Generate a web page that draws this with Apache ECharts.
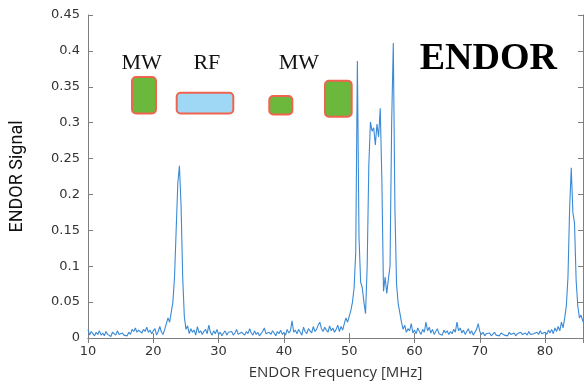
<!DOCTYPE html>
<html>
<head>
<meta charset="utf-8">
<script src="https://cdn.jsdelivr.net/npm/echarts@6/dist/echarts.min.js"></script>
<style>
  html, body { margin: 0; padding: 0; background: #fff; }
  #chart { width: 584px; height: 385px; }
</style>
</head>
<body>
<div id="chart"></div>
<script>
// ENDOR spectrum, sampled every 0.25 MHz starting at 10 MHz
const freqStart = 10;
const freqStep = 0.25;
const signal = [
  0.012, 0.004, 0.009, 0.006, 0.003, 0.008, 0.005, 0.010, // 10
  0.004, 0.007, 0.003, 0.009, 0.005, 0.006, 0.002, 0.008, // 12
  0.006, 0.004, 0.010, 0.005, 0.003, 0.007, 0.004, 0.006, // 14
  0.003, 0.008, 0.005, 0.012, 0.009, 0.014, 0.008, 0.011, // 16
  0.013, 0.007, 0.012, 0.009, 0.015, 0.008, 0.011, 0.006, // 18
  0.010, 0.013, 0.004, 0.009, 0.016, 0.008, 0.005, 0.012, // 20
  0.020, 0.028, 0.022, 0.036, 0.050, 0.085, 0.150, 0.215, // 22
  0.240, 0.185, 0.085, 0.030, 0.012, 0.017, 0.006, 0.013, // 24
  0.008, 0.011, 0.004, 0.016, 0.007, 0.010, 0.005, 0.009, // 26
  0.012, 0.006, 0.018, 0.008, 0.004, 0.010, 0.006, 0.012, // 28
  0.005, 0.008, 0.003, 0.007, 0.010, 0.004, 0.008, 0.006, // 30
  0.009, 0.004, 0.007, 0.012, 0.005, 0.003, 0.008, 0.006, // 32
  0.004, 0.009, 0.006, 0.013, 0.007, 0.004, 0.010, 0.005, // 34
  0.008, 0.003, 0.006, 0.009, 0.014, 0.006, 0.004, 0.008, // 36
  0.005, 0.010, 0.007, 0.003, 0.009, 0.006, 0.011, 0.005, // 38
  0.008, 0.004, 0.012, 0.007, 0.010, 0.024, 0.008, 0.011, // 40
  0.006, 0.012, 0.008, 0.004, 0.015, 0.009, 0.006, 0.013, // 42
  0.010, 0.007, 0.016, 0.009, 0.012, 0.018, 0.022, 0.013, // 44
  0.009, 0.015, 0.011, 0.008, 0.017, 0.010, 0.014, 0.008, // 46
  0.012, 0.018, 0.009, 0.016, 0.011, 0.020, 0.028, 0.022, // 48
  0.030, 0.038, 0.050, 0.070, 0.120, 0.386, 0.140, 0.078, // 50
  0.070, 0.050, 0.034, 0.100, 0.240, 0.301, 0.288, 0.293, // 52
  0.269, 0.298, 0.280, 0.320, 0.220, 0.065, 0.085, 0.062, // 54
  0.082, 0.100, 0.300, 0.411, 0.180, 0.075, 0.048, 0.035, // 56
  0.022, 0.012, 0.018, 0.008, 0.013, 0.010, 0.020, 0.007, // 58
  0.011, 0.006, 0.014, 0.009, 0.005, 0.012, 0.008, 0.022, // 60
  0.010, 0.015, 0.007, 0.012, 0.005, 0.009, 0.013, 0.006, // 62
  0.008, 0.004, 0.011, 0.007, 0.010, 0.005, 0.009, 0.006, // 64
  0.012, 0.008, 0.022, 0.010, 0.014, 0.007, 0.011, 0.005, // 66
  0.009, 0.013, 0.006, 0.010, 0.004, 0.008, 0.012, 0.020, // 68
  0.009, 0.005, 0.008, 0.003, 0.006, 0.004, 0.007, 0.003, // 70
  0.005, 0.008, 0.004, 0.006, 0.003, 0.007, 0.005, 0.004, // 72
  0.006, 0.003, 0.008, 0.005, 0.004, 0.007, 0.003, 0.006, // 74
  0.004, 0.008, 0.005, 0.003, 0.007, 0.004, 0.009, 0.005, // 76
  0.003, 0.006, 0.004, 0.008, 0.005, 0.010, 0.006, 0.004, // 78
  0.008, 0.005, 0.011, 0.007, 0.012, 0.006, 0.014, 0.009, // 80
  0.016, 0.010, 0.022, 0.014, 0.028, 0.045, 0.085, 0.180, // 82
  0.237, 0.175, 0.160, 0.080, 0.045, 0.028, 0.032, 0.024, // 84
  0.020                                                   // 86
];

// pulse scheme drawn over the spectrum (in data units)
const pulseLabels = ['MW', 'RF', 'MW'];
const pulseLabelFreq = [18.2, 28.2, 42.3];
const pulseLabelLevel = 0.383;
const boxFreqFrom = [16.74, 23.58, 37.76, 46.29];
const boxFreqTo = [20.41, 32.25, 41.29, 50.38];
const boxLevelLow = [0.3128, 0.3128, 0.3114, 0.3083];
const boxLevelHigh = [0.3636, 0.3416, 0.337, 0.3585];
const boxKind = ['MW', 'RF', 'MW', 'MW'];

const freq = signal.map((_, i) => freqStart + i * freqStep);

const chart = echarts.init(document.getElementById('chart'));

const axisGray = '#7f7f7f';
const tickFont = { color: '#333', fontSize: 13, fontFamily: 'DejaVu Sans' };

const option = {
  animation: false,
  backgroundColor: '#fff',
  grid: { left: 88, top: 15, right: 1, bottom: 42 },
  xAxis: [
    {
      type: 'value', min: 10, max: 85.8, interval: 10, position: 'bottom',
      axisLine: { lineStyle: { color: axisGray, width: 1 } },
      axisTick: { inside: true, length: 5, lineStyle: { color: axisGray } },
      axisLabel: Object.assign({ margin: 7, showMaxLabel: false }, tickFont),
      splitLine: { show: false },
      name: 'ENDOR Frequency [MHz]', nameLocation: 'middle', nameGap: 27,
      nameTextStyle: { color: '#333', fontSize: 15, fontFamily: 'Open Sans' }
    },
    {
      type: 'value', min: 10, max: 85.8, interval: 10, position: 'top',
      axisLine: { lineStyle: { color: axisGray, width: 1 } },
      axisTick: { inside: true, length: 5, lineStyle: { color: axisGray } },
      axisLabel: { show: false },
      splitLine: { show: false }
    }
  ],
  yAxis: [
    {
      type: 'value', min: 0, max: 0.45, interval: 0.05, position: 'left',
      axisLine: { show: true, lineStyle: { color: axisGray, width: 1 } },
      axisTick: { show: true, inside: true, length: 5, lineStyle: { color: axisGray } },
      axisLabel: Object.assign({ margin: 8 }, tickFont),
      splitLine: { show: false },
      name: 'ENDOR Signal', nameLocation: 'middle', nameGap: 62,
      nameTextStyle: { color: '#111', fontSize: 18, fontFamily: 'Roboto' }
    },
    {
      type: 'value', min: 0, max: 0.45, interval: 0.05, position: 'right',
      axisLine: { show: true, lineStyle: { color: axisGray, width: 1 } },
      axisTick: { show: true, inside: true, length: 5, lineStyle: { color: axisGray } },
      axisLabel: { show: false },
      splitLine: { show: false }
    }
  ],
  series: [
    {
      type: 'line',
      xAxisIndex: 0, yAxisIndex: 0,
      showSymbol: false,
      clip: true,
      lineStyle: { color: '#3a8ad6', width: 1.1 },
      data: freq.map((f, i) => [f, signal[i]])
    }
  ]
};

chart.setOption(option);

// annotations placed through the axes
const px = (f, v) => chart.convertToPixel({ seriesIndex: 0 }, [f, v]);
const graphics = [];
boxFreqFrom.forEach((f0, i) => {
  const a = px(f0, boxLevelHigh[i]);
  const b = px(boxFreqTo[i], boxLevelLow[i]);
  graphics.push({
    type: 'rect',
    shape: { x: a[0], y: a[1], width: b[0] - a[0], height: b[1] - a[1], r: 4 },
    style: {
      fill: boxKind[i] === 'RF' ? '#9fd8f4' : '#6cb83c',
      stroke: '#f0644f',
      lineWidth: 2
    }
  });
});
pulseLabels.forEach((t, i) => {
  const p = px(pulseLabelFreq[i], pulseLabelLevel);
  graphics.push({
    type: 'text', x: p[0], y: p[1],
    style: {
      text: t, fill: '#111', font: '22px "Liberation Serif"',
      textAlign: 'center', textVerticalAlign: 'middle'
    }
  });
});
const tp = px(71.3, 0.388);
graphics.push({
  type: 'text', x: tp[0], y: tp[1],
  style: {
    text: 'ENDOR', fill: '#000', font: 'bold 38px "Liberation Serif"',
    textAlign: 'center', textVerticalAlign: 'middle'
  }
});
chart.setOption({ graphic: graphics });
</script>
</body>
</html>
